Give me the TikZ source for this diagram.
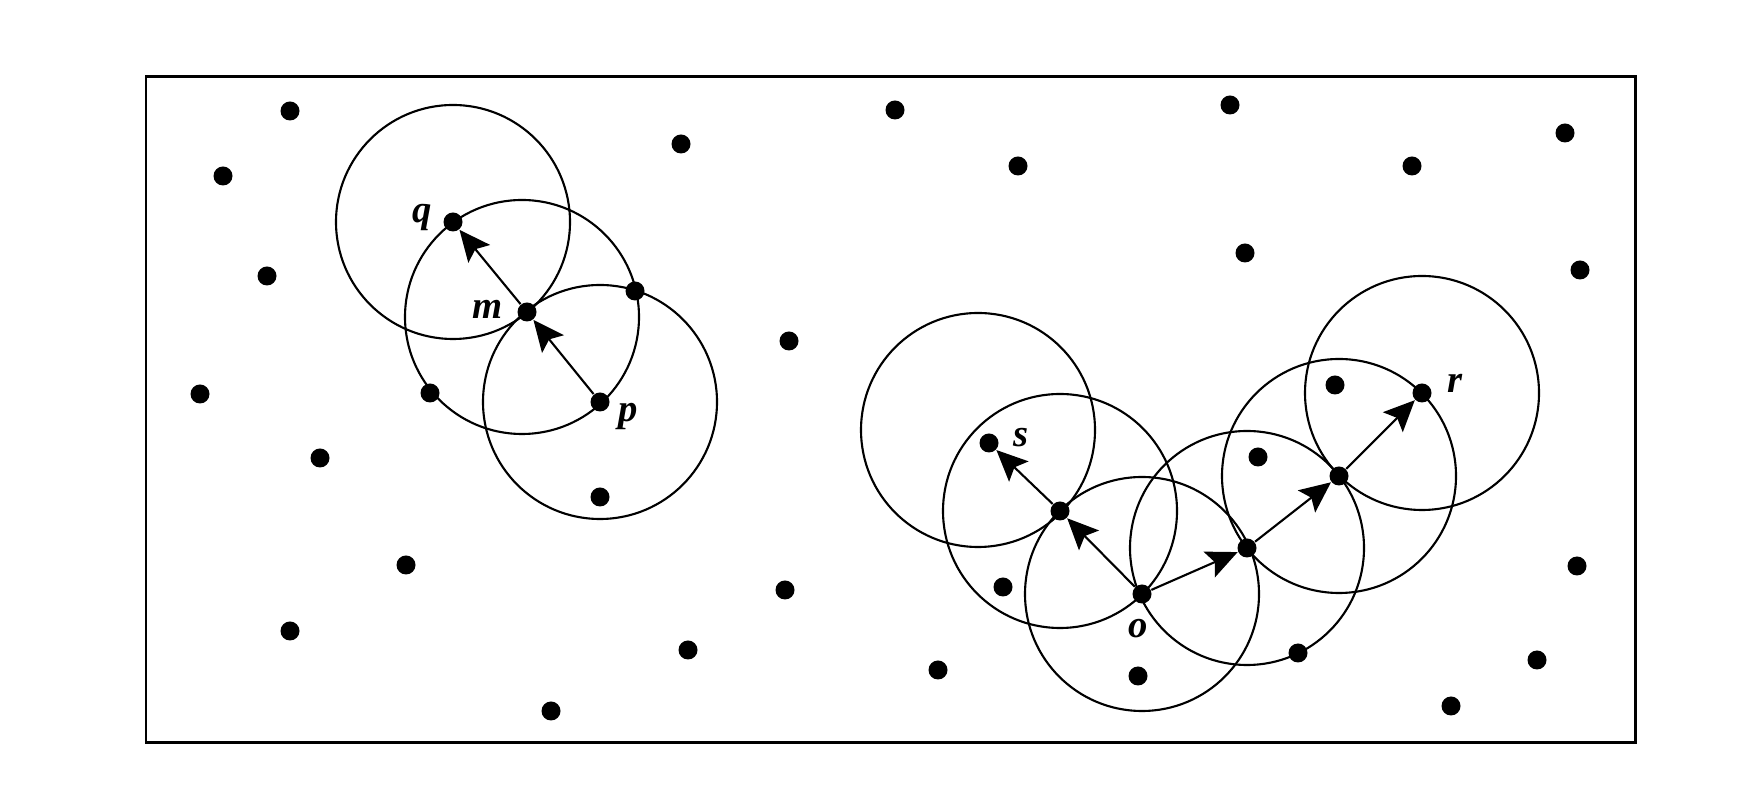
\documentclass[tikz,border=0pt]{standalone}
\usepackage{fontspec}
\setmainfont{Liberation Serif}
\usetikzlibrary{arrows.meta}
\begin{document}
\begin{tikzpicture}[every node/.style={inner sep=0pt},
  sensor/.style={circle, fill, minimum size=1.9mm},
  lbl/.style={font=\fontsize{11}{13}\selectfont\bfseries\itshape},
  zone/.style={line width=0.6pt},
  hop/.style={line width=0.6pt, -{Stealth[length=3.1mm, width=2.8mm, inset=0.6mm]}}]
\useasboundingbox (0,0) rectangle (17.64,8);
\draw[line width=0.85pt] (1.46,0.577) rectangle (16.35,7.233);
\node[sensor] (q) at (4.53,5.78) {};
\node[sensor] (m) at (5.27,4.88) {};
\node[sensor] (p) at (6.00,3.98) {};
\node[sensor] (s) at (9.89,3.57) {};
\node[sensor] (a) at (10.60,2.89) {};
\node[sensor] (o) at (11.42,2.06) {};
\node[sensor] (b) at (12.47,2.52) {};
\node[sensor] (c) at (13.39,3.24) {};
\node[sensor] (r) at (14.22,4.07) {};
\coordinate (c0) at (9.78,3.70);
\coordinate (cm) at (5.22,4.83);
\foreach \x/\y [count=\i] in {6.35/5.09, 4.30/4.07, 6.00/3.03, 2.90/6.89, 2.23/6.24, 2.67/5.24, 2.00/4.06, 3.20/3.42, 4.06/2.35, 2.90/1.69, 5.51/0.89, 6.88/1.50, 7.85/2.10, 7.89/4.59, 6.81/6.56, 8.95/6.90, 10.18/6.34, 12.30/6.95, 14.12/6.34, 15.65/6.67, 12.45/5.47, 15.80/5.30, 13.35/4.15, 12.58/3.43, 10.03/2.13, 9.38/1.30, 11.38/1.24, 12.98/1.47, 15.77/2.34, 15.37/1.40, 14.51/0.94} \node[sensor] (n\i) at (\x,\y) {};
\node[lbl] (lq) at (4.22,5.82) {q};
\node[lbl] (lm) at (4.88,4.91) {m};
\node[lbl] (lp) at (6.28,3.83) {p};
\node[lbl] (ls) at (10.21,3.62) {s};
\node[lbl] (lo) at (11.38,1.71) {o};
\node[lbl] (lr) at (14.55,4.17) {r};
\foreach \n in {q, cm, p, c0, a, o, b, c, r} \draw[zone] (\n.center) circle (1.17);
\foreach \x/\y in {p/m, m/q, o/a, a/s, o/b, b/c, c/r} \draw[hop] (\x) -- (\y);
%\foreach \x/\y in {o/a, a/s} \draw[hop, red] (\x) -- (\y);
\end{tikzpicture}
\end{document}
